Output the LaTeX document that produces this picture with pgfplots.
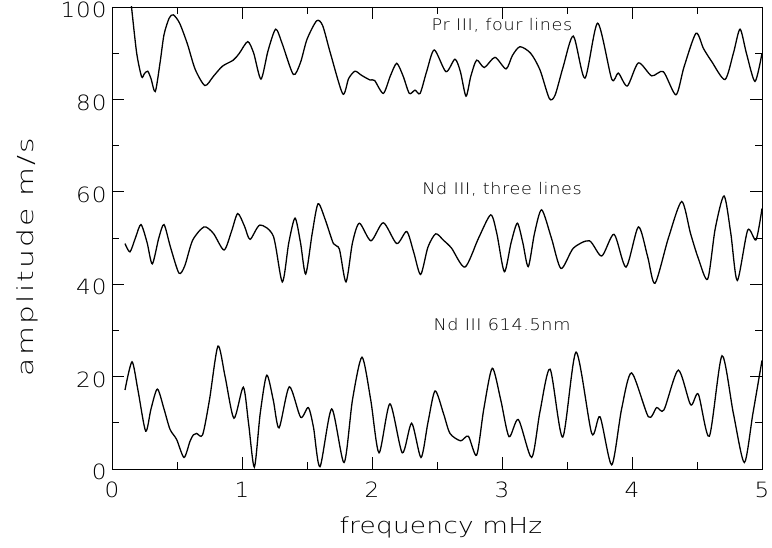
\documentclass[border=0pt]{standalone}
\usepackage{fontspec}
\setmainfont{DejaVu Sans ExtraLight}[FakeStretch=1.1,LetterSpace=4]
\newfontfamily\xlabfont{DejaVu Sans ExtraLight}[FakeStretch=1.2,LetterSpace=1]
\newfontfamily\ylabfont{DejaVu Sans ExtraLight}[FakeStretch=1.35,LetterSpace=10]
\usepackage{pgfplots}
\pgfplotsset{compat=1.18}

\begin{document}
\begin{tikzpicture}
\begin{axis}[
    scale only axis,
    width=650bp, height=462bp,
    xmin=0, xmax=5, ymin=0, ymax=100,
    xtick={0,1,2,3,4,5}, minor x tick num=1,
    ytick={0,20,40,60,80,100}, minor y tick num=1,
    xtick pos=both, ytick pos=both,
    tick align=inside,
    major tick length=12bp, minor tick length=7bp,
    every tick/.style={black, line width=0.8bp},
    axis line style={line width=0.8bp},
    /pgf/number format/assume math mode=true,
    tick label style={font=\fontsize{21bp}{24bp}\selectfont},
    xticklabel style={anchor=center, yshift=-21bp},
    yticklabel style={anchor=east, xshift=-2bp, yshift=-3bp},
    xlabel={frequency mHz},
    ylabel={amplitude m/s},
    xlabel style={font=\xlabfont\fontsize{22bp}{25bp}\selectfont,
                  at={(axis description cs:0.506,-0.1255)}, anchor=center},
    ylabel style={font=\ylabfont\fontsize{22bp}{25bp}\selectfont,
                  at={(axis description cs:-0.1308,0.459)}, anchor=center},
]
% Pr III, four lines
\addplot[black, line width=1.3bp, smooth, tension=0.45] coordinates {
(0.10,113) (0.15,100) (0.19,90) (0.228,84.9) (0.25,85.6) (0.275,86.1) (0.30,84.5)
(0.333,81.7) (0.37,88) (0.40,94) (0.44,97.6) (0.472,98.3) (0.52,96.5) (0.58,92)
(0.64,86.5) (0.715,83.0) (0.78,85) (0.85,87.2) (0.933,88.5) (0.98,90) (1.044,92.5)
(1.09,90) (1.146,84.4) (1.20,90.5) (1.259,95.2) (1.31,92) (1.395,85.4) (1.45,88)
(1.50,93) (1.574,97) (1.62,96) (1.68,90) (1.775,81.2) (1.82,84.5) (1.869,86.1)
(1.92,85.2) (1.985,84.2) (2.02,84.1) (2.087,81.3) (2.14,85) (2.19,87.8) (2.24,85)
(2.287,81.3) (2.331,82.0) (2.37,81.3) (2.42,86) (2.479,90.7) (2.569,86.0)
(2.638,88.7) (2.68,86) (2.723,80.7) (2.76,85) (2.805,88.5) (2.864,86.9)
(2.946,89.1) (3.031,86.6) (3.08,89.5) (3.138,91.4) (3.22,90) (3.292,86.4)
(3.364,80.2) (3.408,80.9) (3.47,87) (3.549,93.7) (3.638,84.6) (3.736,96.5)
(3.844,84.4) (3.895,85.7) (3.964,82.9) (4.049,87.9) (4.151,85.1) (4.241,86.0)
(4.338,81.0) (4.40,87) (4.492,94.3) (4.55,91) (4.613,88.2) (4.715,84.3)
(4.78,90) (4.831,95.2) (4.88,90) (4.946,83.9) (5.0,90.0)
};
% Nd III, three lines
\addplot[black, line width=1.3bp, smooth, tension=0.45] coordinates {
(0.1,48.8) (0.138,47.0) (0.18,50) (0.223,52.9) (0.27,49) (0.31,44.4) (0.36,50)
(0.40,52.9) (0.45,48) (0.515,42.4) (0.56,44) (0.62,49.5) (0.708,52.4) (0.78,51)
(0.862,47.4) (0.92,51.5) (0.967,55.3) (1.02,52.5) (1.062,49.7) (1.138,52.8)
(1.241,50.4) (1.31,40.5) (1.36,49) (1.408,54.3) (1.45,49) (1.49,42.2) (1.54,51)
(1.585,57.4) (1.64,54) (1.703,48.8) (1.749,47.6) (1.8,40.5) (1.85,49) (1.903,53.2)
(1.992,49.4) (2.087,53.3) (2.19,48.8) (2.267,51.4) (2.32,47) (2.374,42.1)
(2.43,48) (2.49,50.9) (2.55,49.5) (2.612,47.8) (2.715,43.7) (2.82,50) (2.913,55.0)
(2.96,51) (3.018,42.7) (3.07,49) (3.118,53.2) (3.16,49) (3.202,43.8) (3.25,51)
(3.305,56.1) (3.38,50) (3.454,43.4) (3.549,47.8) (3.672,49.4) (3.767,46.1)
(3.862,50.8) (3.954,43.7) (4.049,52.4) (4.12,46) (4.177,40.2) (4.28,50)
(4.382,57.9) (4.45,51) (4.51,45.6) (4.582,41.1) (4.64,52) (4.708,59.1) (4.76,51)
(4.81,40.8) (4.89,51.7) (4.954,49.6) (5.0,56.4)
};
% Nd III 614.5nm
\addplot[black, line width=1.3bp, smooth, tension=0.45] coordinates {
(0.1,17.1) (0.154,23.2) (0.20,17) (0.259,8.2) (0.30,13) (0.349,17.3) (0.40,13)
(0.446,8.6) (0.497,6.4) (0.554,2.5) (0.60,6) (0.626,7.4) (0.651,7.7) (0.697,7.4)
(0.75,15) (0.815,26.6) (0.87,20) (0.938,11.0) (1.01,17.7) (1.05,10) (1.095,0.4)
(1.14,12) (1.19,20.3) (1.24,15) (1.285,8.9) (1.364,17.8) (1.451,11.2) (1.51,13.3)
(1.55,9) (1.6,0.5) (1.69,13.0) (1.785,1.4) (1.85,15) (1.923,24.2) (1.99,15)
(2.054,3.5) (2.138,14.1) (2.233,3.5) (2.305,9.9) (2.377,2.5) (2.43,10)
(2.485,16.9) (2.55,12) (2.6,7.7) (2.682,6.1) (2.741,7.1) (2.805,3.0) (2.86,13)
(2.925,21.8) (2.99,15) (3.054,7.0) (3.126,10.7) (3.228,2.5) (3.292,12.4)
(3.37,21.6) (3.467,6.9) (3.57,25.3) (3.69,7.7) (3.754,11.3) (3.844,0.9) (3.92,13)
(3.997,20.8) (4.126,11.3) (4.19,13.3) (4.246,12.8) (4.356,21.4) (4.451,13.9)
(4.51,16.2) (4.595,7.1) (4.692,24.5) (4.78,12) (4.864,1.4) (4.93,12) (5.0,23.5)
};
\node[anchor=base, font=\fontsize{16bp}{18bp}\selectfont] at (axis cs:3,95) {Pr III, four lines};
\node[anchor=base, font=\fontsize{16bp}{18bp}\selectfont] at (axis cs:3,59.5) {Nd III, three lines};
\node[anchor=base, font=\fontsize{16bp}{18bp}\selectfont] at (axis cs:3,30) {Nd III 614.5nm};
\coordinate (bl) at (rel axis cs:0,0);
\coordinate (tr) at (rel axis cs:1,1);
\end{axis}
\pgfresetboundingbox
\path ([xshift=-112bp,yshift=-79bp]bl) rectangle ([xshift=10bp,yshift=7bp]tr);
\end{tikzpicture}
\end{document}
